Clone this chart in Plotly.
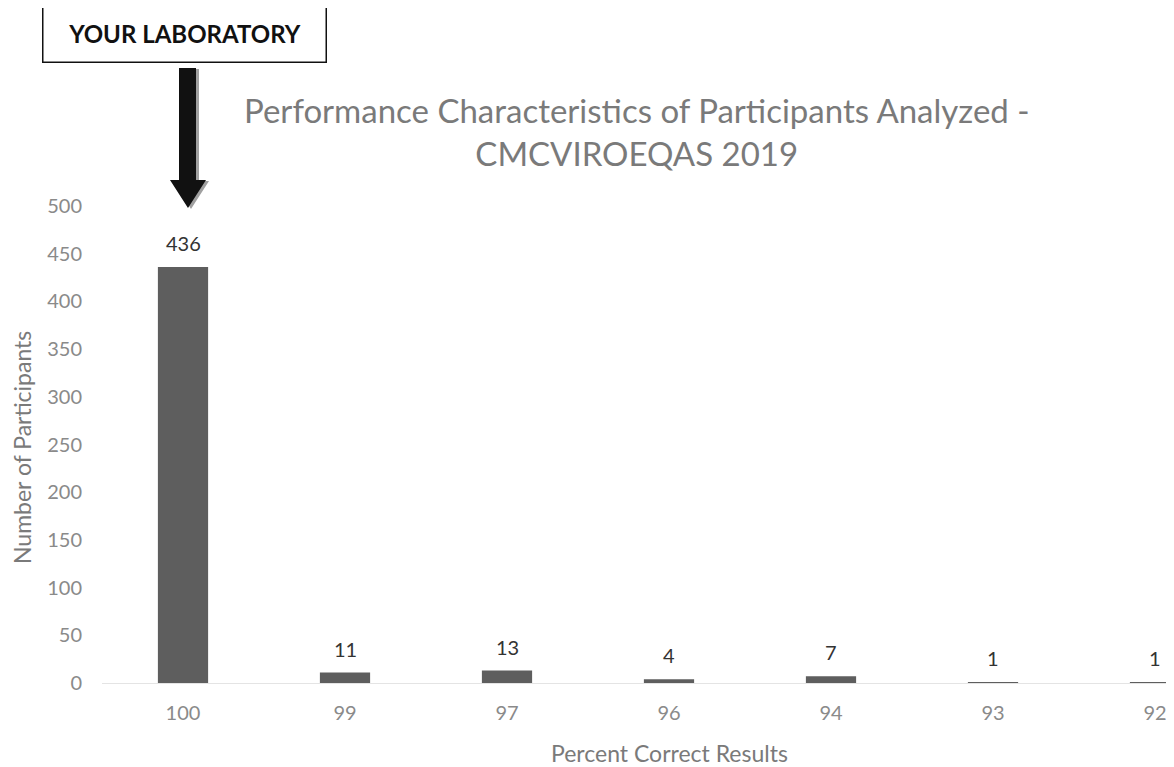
import plotly.graph_objects as go

categories = ["100", "99", "97", "96", "94", "93", "92"]
participants = [436, 11, 13, 4, 7, 1, 1]
y_ticks = [0, 50, 100, 150, 200, 250, 300, 350, 400, 450, 500]

OFF = 8  # page body margin
W, H = 1174 - OFF, 767 - OFF
ML, MR, MT, MB = 102 - OFF, 0, 206 - OFF, 84
PW, PH = W - ML - MR, H - MT - MB

def px(x):
    return (x - OFF - ML) / PW

def py(y):
    return (H - MB - (y - OFF)) / PH

FONT = "Lato"
GRAY = "#8a8a8a"

fig = go.Figure()
fig.add_trace(go.Bar(
    x=categories, y=participants,
    marker=dict(color="#5e5e5e", line=dict(width=0)),
    width=0.31, showlegend=False, hoverinfo="x+y",
))

annotations = []
for i, v in enumerate(participants):
    annotations.append(dict(
        x=i, y=v, xref="x", yref="y", text=str(v), showarrow=False,
        yanchor="middle", yshift=24,
        font=dict(family=FONT, size=20, color="#333333"),
    ))

# Title
annotations.append(dict(
    x=px(637), y=py(132), xref="paper", yref="paper",
    text="Performance Characteristics of Participants Analyzed -<br>CMCVIROEQAS 2019",
    showarrow=False, xanchor="center", yanchor="middle", align="center",
    font=dict(family=FONT, size=33, color="#7a7a7a"),
))
# Axis titles
annotations.append(dict(
    x=px(669), y=py(753), xref="paper", yref="paper",
    text="Percent Correct Results", showarrow=False,
    xanchor="center", yanchor="middle",
    font=dict(family=FONT, size=23, color="#7a7a7a"),
))
annotations.append(dict(
    x=px(22), y=py(448), xref="paper", yref="paper",
    text="Number of Participants", showarrow=False, textangle=-90,
    xanchor="center", yanchor="middle",
    font=dict(family=FONT, size=23, color="#7a7a7a"),
))
# YOUR LABORATORY box
annotations.append(dict(
    x=px(184), y=py(33.5), xref="paper", yref="paper",
    text="<b>YOUR LABORATORY</b>", showarrow=False,
    xanchor="center", yanchor="middle",
    width=280, height=55,
    bordercolor="#111111", borderwidth=1.5, bgcolor="white",
    font=dict(family=FONT, size=24, color="#111111"),
))

def arrow_path(dx):
    pts = [(179, 68), (196, 68), (196, 180), (206, 180), (188, 208),
           (170, 180), (179, 180)]
    return "M " + " L ".join(f"{px(x + dx):.5f},{py(y + dx * 0.3):.5f}" for x, y in pts) + " Z"

shapes = [
    dict(type="path", xref="paper", yref="paper", path=arrow_path(3),
         fillcolor="#a0a0a0", line=dict(width=0)),
    dict(type="path", xref="paper", yref="paper", path=arrow_path(0),
         fillcolor="#111111", line=dict(width=0)),
]

fig.update_layout(
    width=W, height=H,
    margin=dict(l=ML, r=MR, t=MT, b=MB, autoexpand=False),
    paper_bgcolor="white", plot_bgcolor="white",
    annotations=annotations, shapes=shapes,
    xaxis=dict(
        type="category", range=[-0.5, PW / 162 - 0.5],
        showgrid=False, zeroline=False, showline=True, linecolor="#e4e4e4",
        linewidth=1, ticks="", ticklabelstandoff=12,
        tickfont=dict(family=FONT, size=20, color=GRAY),
    ),
    yaxis=dict(
        range=[0, 500], tickvals=y_ticks, showgrid=False, zeroline=False,
        showline=False, ticks="", ticklabelstandoff=19,
        tickfont=dict(family=FONT, size=20, color=GRAY),
    ),
    bargap=0.69,
)

fig.write_html("out.html")
